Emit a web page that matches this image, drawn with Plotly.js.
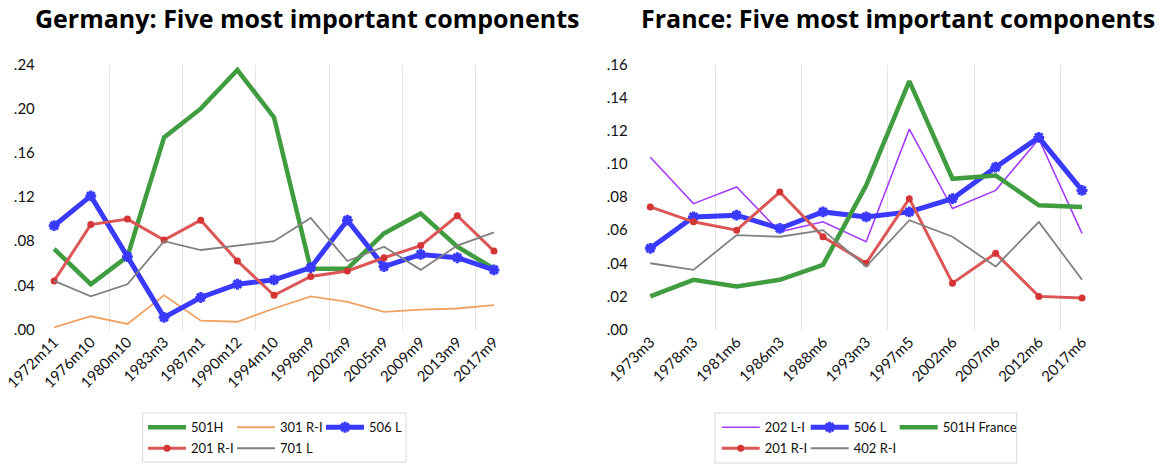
<!DOCTYPE html>
<html><head><meta charset="utf-8">
<script src="https://cdn.plot.ly/plotly-3.0.1.min.js"></script>
<style>html,body{margin:0;padding:0;background:#fff}#chart{width:1160px;height:465px}</style>
</head><body><div id="chart"></div>
<script>
// ---- Germany data ----
const deLabels = ['1972m11','1976m10','1980m10','1983m3','1987m1','1990m12','1994m10','1998m9','2002m9','2005m9','2009m9','2013m9','2017m9'];
const de501H  = [0.073,0.041,0.066,0.174,0.200,0.235,0.192,0.055,0.055,0.087,0.105,0.075,0.055];
const de301RI = [0.002,0.012,0.005,0.031,0.008,0.007,0.019,0.030,0.025,0.016,0.018,0.019,0.022];
const de506L  = [0.094,0.121,0.066,0.011,0.029,0.041,0.045,0.056,0.099,0.057,0.068,0.065,0.054];
const de201RI = [0.044,0.095,0.100,0.081,0.099,0.062,0.031,0.048,0.053,0.065,0.076,0.103,0.071];
const de701L  = [0.044,0.030,0.041,0.080,0.072,0.076,0.080,0.101,0.062,0.075,0.054,0.076,0.088];
const deYTicks = [0,0.04,0.08,0.12,0.16,0.20,0.24];
const deYText  = ['.00','.04','.08','.12','.16','.20','.24'];

// ---- France data ----
const frLabels = ['1973m3','1978m3','1981m6','1986m3','1988m6','1993m3','1997m5','2002m6','2007m6','2012m6','2017m6'];
const fr202LI = [0.104,0.076,0.086,0.059,0.065,0.053,0.121,0.073,0.084,0.115,0.058];
const fr506L  = [0.049,0.068,0.069,0.061,0.071,0.068,0.071,0.079,0.098,0.116,0.084];
const fr501H  = [0.020,0.030,0.026,0.030,0.039,0.087,0.150,0.091,0.093,0.075,0.074];
const fr201RI = [0.074,0.065,0.060,0.083,0.056,0.040,0.079,0.028,0.046,0.020,0.019];
const fr402RI = [0.040,0.036,0.057,0.056,0.060,0.038,0.066,0.056,0.038,0.065,0.030];
const frYTicks = [0,0.02,0.04,0.06,0.08,0.10,0.12,0.14,0.16];
const frYText  = ['.00','.02','.04','.06','.08','.10','.12','.14','.16'];

const W = 1160, H = 465;
const px = x => x / W, py = y => 1 - y / H;
const FONT = 'Lato, "Open Sans", sans-serif';
const TFONT = '"Open Sans", Lato, sans-serif';
const idx = a => a.map((_, i) => i);
const gridBetween = labels => labels.map((_, i) => i + 0.5).filter((v, i) => i % 2 === 1 && i < labels.length - 1);
const inner = arr => arr.slice(1, arr.length - 1);

const GREEN = {color: '#3f9d3f', width: 4.5};
const ORANGE = {color: '#f0a262', width: 1.8};
const BLUE = {color: '#3a3aff', width: 5};
const RED = {color: '#dc5656', width: 3};
const GRAY = {color: '#808080', width: 1.8};
const PURPLE = {color: '#a43cff', width: 1.6};
const blueMarker = {symbol: 'asterisk-open', size: 9, line: {width: 3, color: '#2a2aff'}};
const redMarker = {symbol: 'circle', size: 7, color: '#d43434'};

function tr(labels, y, name, line, xa, ya, legend, marker, lastCol) {
  const t = {type: 'scatter', x: idx(labels), y: y, name: name, line: line,
             mode: marker ? 'lines+markers' : 'lines', xaxis: xa, yaxis: ya, legend: legend};
  if (marker) t.marker = marker;
  if (lastCol) t.legendwidth = 90;
  return t;
}

const data = [
  tr(deLabels, de501H, '501H', GREEN, 'x', 'y', 'legend'),
  tr(deLabels, de301RI, '301 R-I', ORANGE, 'x', 'y', 'legend'),
  tr(deLabels, de506L, '506 L', BLUE, 'x', 'y', 'legend', blueMarker, true),
  tr(deLabels, de201RI, '201 R-I', RED, 'x', 'y', 'legend2', redMarker),
  tr(deLabels, de701L, '701 L', GRAY, 'x', 'y', 'legend2', null, true),
  tr(frLabels, fr202LI, '202 L-I', PURPLE, 'x2', 'y2', 'legend3'),
  tr(frLabels, fr506L, '506 L', BLUE, 'x2', 'y2', 'legend3', blueMarker),
  tr(frLabels, fr501H, '501H France', GREEN, 'x2', 'y2', 'legend3', null, true),
  tr(frLabels, fr201RI, '201 R-I', RED, 'x2', 'y2', 'legend4', redMarker),
  tr(frLabels, fr402RI, '402 R-I', GRAY, 'x2', 'y2', 'legend4', null, true),
];

const GRID = '#e4e4e4';
const tickFont = {family: FONT, size: 15, color: '#111'};

function xAxis(labels, domain, anchor) {
  return {domain: domain, anchor: anchor, range: [-0.5, labels.length - 0.5],
          tickmode: 'array', tickvals: idx(labels), ticktext: labels, tickangle: -45,
          showgrid: false, zeroline: false, showline: false, ticks: '', tickfont: tickFont,
          minor: {tickmode: 'array', tickvals: gridBetween(labels), showgrid: true, gridcolor: GRID, gridwidth: 1, ticks: ''},
          fixedrange: true};
}
function yAxis(ticks, text, domain, anchor) {
  return {domain: domain, anchor: anchor, range: [ticks[0], ticks[ticks.length - 1]],
          tickmode: 'array', tickvals: ticks, ticktext: text, showgrid: false, zeroline: false,
          showline: false, ticks: '', tickfont: tickFont, fixedrange: true};
}
function yGrid(ticks, over, anchor) {
  return {overlaying: over, anchor: anchor, range: [ticks[0], ticks[ticks.length - 1]],
          tickmode: 'array', tickvals: inner(ticks), showticklabels: false, showgrid: true,
          gridcolor: GRID, gridwidth: 1, zeroline: false, showline: false, ticks: '', fixedrange: true};
}
const yDom = [py(329.5), py(64.5)];
const legFont = {family: FONT, size: 13, color: '#111'};
function leg(xLeft, yCenter) {
  return {orientation: 'h', x: px(xLeft), xanchor: 'left', y: py(yCenter), yanchor: 'middle',
          font: legFont, bgcolor: 'rgba(0,0,0,0)', borderwidth: 0, itemwidth: 38,
          entrywidth: 36, entrywidthmode: 'pixels', itemclick: false, itemdoubleclick: false,
          tracegroupgap: 0};
}

const layout = {
  width: W, height: H, margin: {l: 0, r: 0, t: 0, b: 0},
  paper_bgcolor: '#fff', plot_bgcolor: 'rgba(0,0,0,0)',
  font: {family: FONT, color: '#111'},
  showlegend: true,
  xaxis: xAxis(deLabels, [px(35.8), px(512.3)], 'y'),
  yaxis: yAxis(deYTicks, deYText, yDom, 'x'),
  xaxis2: xAxis(frLabels, [px(628.7), px(1103.6)], 'y2'),
  yaxis2: yAxis(frYTicks, frYText, yDom, 'x2'),
  yaxis3: yGrid(deYTicks, 'y', 'x'),
  yaxis4: yGrid(frYTicks, 'y2', 'x2'),
  legend: leg(143, 427.3),
  legend2: leg(143, 448.3),
  legend3: leg(716.7, 427.3),
  legend4: leg(716.7, 448.3),
  shapes: [
    {type: 'rect', xref: 'paper', yref: 'paper', x0: px(142.7), x1: px(406), y0: py(413), y1: py(462),
     line: {color: '#d9d9d9', width: 1}, fillcolor: 'rgba(0,0,0,0)'},
    {type: 'rect', xref: 'paper', yref: 'paper', x0: px(715), x1: px(1016.7), y0: py(413), y1: py(463),
     line: {color: '#d9d9d9', width: 1}, fillcolor: 'rgba(0,0,0,0)'}
  ],
  annotations: [
    {text: '<b>Germany: Five most important components</b>', xref: 'paper', yref: 'paper',
     x: px(306.5), y: py(18), xanchor: 'center', yanchor: 'middle', showarrow: false,
     font: {family: TFONT, size: 25, color: '#000'}},
    {text: '<b>France: Five most important components</b>', xref: 'paper', yref: 'paper',
     x: px(898), y: py(18), xanchor: 'center', yanchor: 'middle', showarrow: false,
     font: {family: TFONT, size: 25, color: '#000'}}
  ]
};

Plotly.newPlot('chart', data, layout, {displayModeBar: false, staticPlot: true});
</script>
</body></html>
